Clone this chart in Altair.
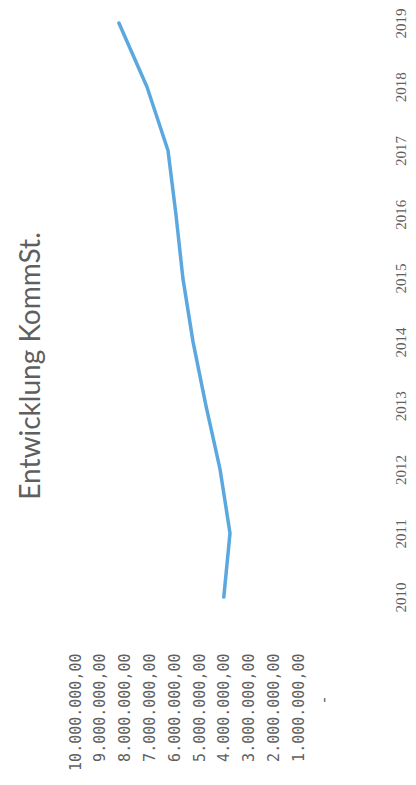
import altair as alt
import pandas as pd

# Data read from the (rotated) reference picture
years = [2010, 2011, 2012, 2013, 2014, 2015, 2016, 2017, 2018, 2019]
kommst = [4.00e6, 3.75e6, 4.15e6, 4.72e6, 5.24e6, 5.65e6, 5.93e6, 6.25e6, 7.10e6, 8.23e6]
value_ticks = [0, 1e6, 2e6, 3e6, 4e6, 5e6, 6e6, 7e6, 8e6, 9e6, 1e7]
chart_title = "Entwicklung KommSt."

df = pd.DataFrame({"Jahr": years, "KommSt": kommst})

text_color = "#5f5f5f"

chart = (
    alt.Chart(df)
    .mark_line(color="#5BA8E0", strokeWidth=3.5, strokeCap="round", strokeJoin="round")
    .encode(
        x=alt.X(
            "KommSt:Q",
            scale=alt.Scale(domain=[0, 1e7], reverse=True, nice=False, zero=True),
            axis=alt.Axis(
                orient="bottom",
                values=value_ticks,
                format=",.2f",
                labelExpr="datum.value == 0 ? '-' : datum.label",
                labelAngle=270,
                labelAlign="right",
                labelBaseline="middle",
                labelPadding={"condition": {"test": "datum.value == 0", "value": 98}, "value": 56},
                labelFlush=False,
                labelOverlap=False,
                ticks=False,
                domain=False,
                grid=False,
                title=None,
                labelFont="DejaVu Sans Mono",
                labelFontSize=15,
                labelColor=text_color,
            ),
        ),
        y=alt.Y(
            "Jahr:Q",
            scale=alt.Scale(domain=[2010, 2019], nice=False, zero=False),
            axis=alt.Axis(
                orient="right",
                values=years,
                format="d",
                labelAngle=270,
                labelAlign="center",
                labelBaseline="top",
                labelPadding=70,
                labelFlush=False,
                labelOverlap=False,
                ticks=False,
                domain=False,
                grid=False,
                title=None,
                labelFont="Liberation Serif",
                labelFontSize=15,
                labelColor=text_color,
            ),
        ),
        order=alt.Order("Jahr:Q"),
    )
    .properties(
        width=248,
        height=574,
        autosize=alt.AutoSizeParams(type="none"),
        padding={"left": 75, "top": 23, "right": 93, "bottom": 188},
        title=alt.TitleParams(
            chart_title,
            orient="left",
            anchor="middle",
            offset=22,
            dx=-56,
            font="Lato",
            fontSize=28,
            fontWeight="normal",
            color=text_color,
        ),
    )
    .configure(
        background="white",
        locale={"number": {"decimal": ",", "thousands": ".", "grouping": [3], "currency": ["", " €"]}},
    )
    .configure_view(stroke=None)
)

chart.save("out.html", embed_options={"renderer": "svg", "actions": False})
